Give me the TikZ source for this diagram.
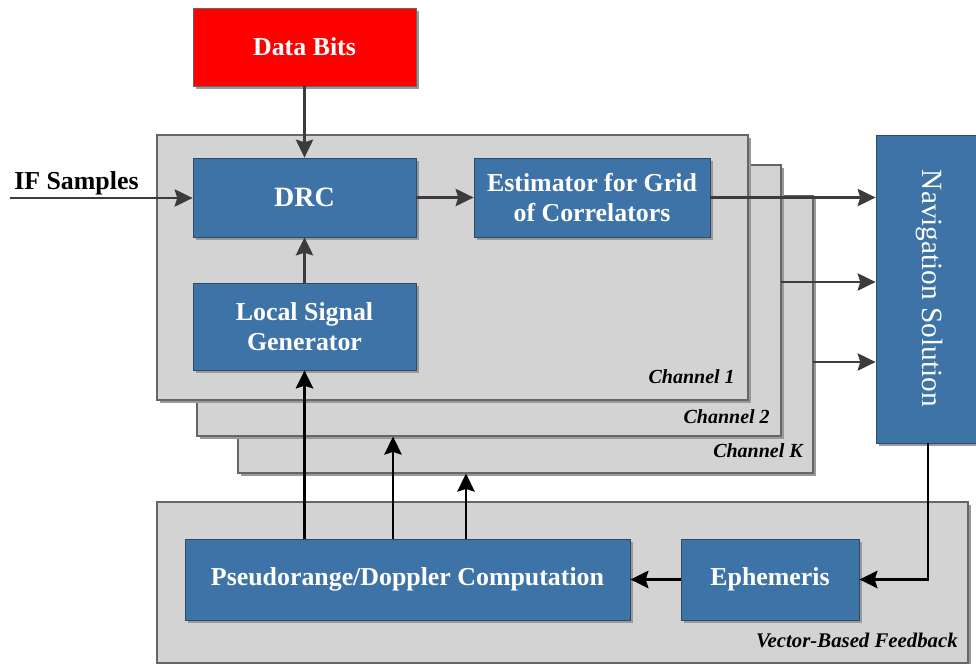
\documentclass[tikz,border=0pt]{standalone}
\usepackage{fontspec}
\setmainfont{Liberation Serif}
\usetikzlibrary{arrows.meta,shadows,calc}
\definecolor{boxblue}{HTML}{3E73A7}
\definecolor{boxedge}{HTML}{2E4A66}
\definecolor{panelgray}{HTML}{D3D3D3}
\definecolor{paneledge}{HTML}{666666}
\definecolor{linegray}{HTML}{3C3C3C}
\newcommand\txtmain{\fontsize{19.4}{22.5}\selectfont\bfseries}
\newcommand\txtbig{\fontsize{21}{24}\selectfont\bfseries}
\newcommand\txtchan{\fontsize{15}{18}\selectfont\bfseries\itshape}
\newcommand\txtvbf{\fontsize{15.6}{18}\selectfont\bfseries\itshape}
\newcommand\txtnav{\fontsize{22}{26}\selectfont}
\begin{document}
\begin{tikzpicture}[x=0.75pt,y=-0.75pt,
  shadowed/.style={drop shadow={shadow xshift=2.6pt,shadow yshift=-2.6pt,fill=black!40,opacity=1}},
  bluebox/.style={rectangle,fill=boxblue,draw=boxedge,line width=0.6pt,shadowed,
    text=white,inner sep=0pt,align=center,font=\txtmain},
  redbox/.style={rectangle,fill=red,draw=black!60,line width=0.6pt,shadowed,
    text=white,inner sep=0pt,align=center,font=\txtmain},
  panel/.style={rectangle,fill=panelgray,draw=paneledge,line width=0.8pt,shadowed,inner sep=0pt},
  chanlabel/.style={anchor=base east,font=\txtchan,inner sep=0pt},
  toparrow/.style={draw=linegray,line width=1.8pt,-{Stealth[length=13.5pt,width=13pt,inset=2pt]}},
  lowarrow/.style={draw=black,line width=2.1pt,-{Stealth[length=13.5pt,width=13pt,inset=2pt]}},
  plainline/.style={draw=black,line width=2.1pt}
]
\useasboundingbox (0,0) rectangle (976,664);

% channel panels (back to front)
\node[panel,minimum width=431.25pt,minimum height=207.75pt] (chK) at (525.5,334.5) {};
\node[panel,minimum width=438pt,minimum height=203.25pt] (ch2) at (489,300.5) {};
\node[panel,minimum width=443.25pt,minimum height=198.75pt] (ch1) at (452.5,267.5) {};
\node[panel,minimum width=608.25pt,minimum height=120.75pt] (vbf) at (562.5,582.5) {};

\node[chanlabel] (l1) at (735,383) {Channel 1};
\node[chanlabel] (l2) at (770,423) {Channel 2};
\node[chanlabel] (lK) at (803,457) {Channel K};
\node[chanlabel,font=\txtvbf] (lv) at (958,647) {Vector-Based Feedback};

% blocks
\node[redbox,minimum width=167.25pt,minimum height=58.5pt] (data) at (304.5,47) {Data Bits};
\node[bluebox,minimum width=167.25pt,minimum height=59.25pt,font=\txtbig] (drc) at (304.5,197.5) {DRC};
\node[bluebox,minimum width=167.25pt,minimum height=65.25pt] (lsg) at (304.5,326.5) {Local Signal\\Generator};
\node[bluebox,minimum width=177pt,minimum height=59.25pt] (est) at (592,197.5) {Estimator for Grid\\of Correlators};
\node[bluebox,minimum width=78pt,minimum height=231pt] (nav) at (928,289) {};
\node[rotate=-90,text=white,font=\txtnav,inner sep=0pt] (navtxt) at (930,288.5) {Navigation Solution};
\node[bluebox,minimum width=333.75pt,minimum height=60.75pt] (pdc) at (407.5,579.5) {Pseudorange/Doppler Computation};
\node[bluebox,minimum width=133.5pt,minimum height=60.75pt] (eph) at (770,579.5) {Ephemeris};

% input
\coordinate (ifin) at (10,198);
\node[anchor=base west,font=\txtmain,inner sep=0pt] (iflab) at (14,189) {IF Samples};

% upper connectors
\draw[toparrow] (ifin) -- (ifin -| drc.west);
\draw[toparrow] (data.south) -- (drc.north);
\draw[toparrow] (lsg.north) -- (drc.south);
\draw[toparrow] (drc.east) -- (est.west);
\draw[toparrow] (est.east) -- (est.east -| nav.west);
\coordinate (c2out) at (781,282);
\coordinate (cKout) at (813,362);
\draw[toparrow] (c2out) -- (c2out -| nav.west);
\draw[toparrow] (cKout) -- (cKout -| nav.west);

% lower connectors
\draw[plainline] (nav.south) |- ($(eph.east)+(6,0)$);
\draw[lowarrow] (nav.south |- eph.east) -- (eph.east);
\draw[lowarrow] (eph.west) -- (pdc.east);
\coordinate (p1) at (304.5,539);
\coordinate (p2) at (393,539);
\coordinate (p3) at (466,539);
\draw[lowarrow] (p1) -- (lsg.south);
\draw[lowarrow] (p2) -- (p2 |- ch2.south);
\draw[lowarrow] (p3) -- (p3 |- chK.south);
\end{tikzpicture}
\end{document}
